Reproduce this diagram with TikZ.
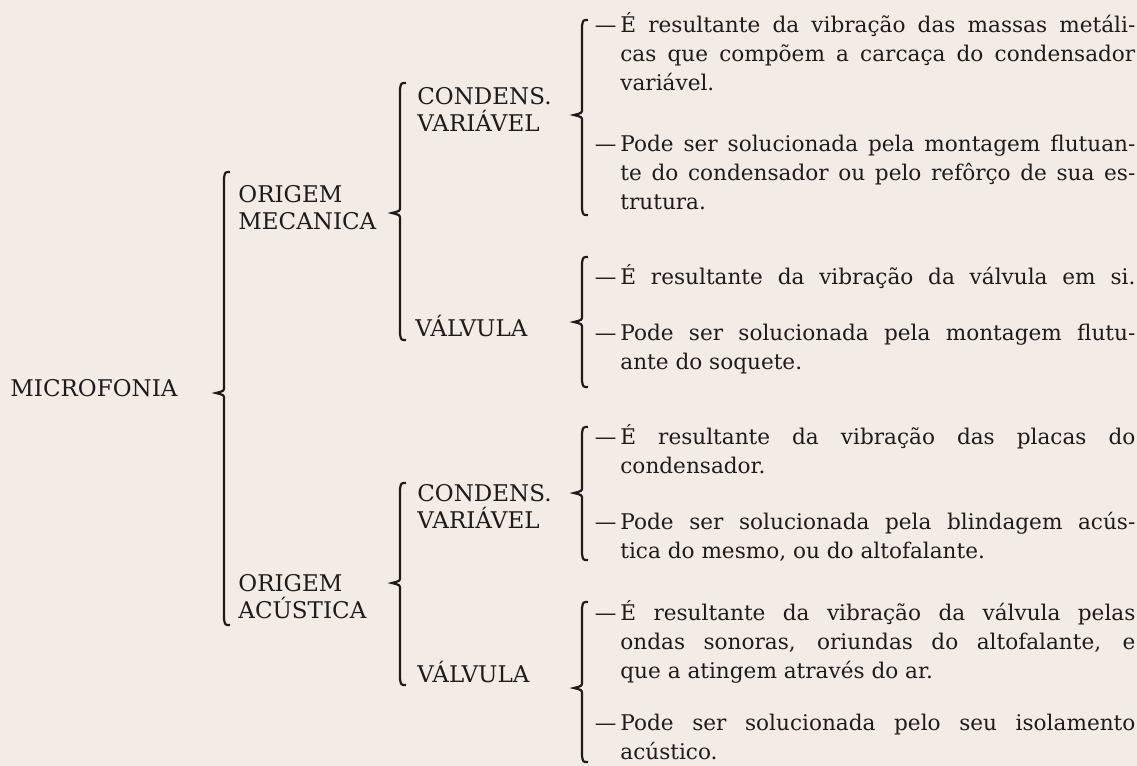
\documentclass[tikz,border=0pt]{standalone}
\usepackage{fontspec}
\setmainfont{DejaVu Serif}
\definecolor{papel}{RGB}{243,235,229}
\definecolor{tinta}{RGB}{30,27,25}
\hbadness=10000
\newcommand{\traco}{\leavevmode\llap{—\hspace{2pt}}}
\newcommand{\chave}[4]{% x, topo, bico, base
  \draw[chaveline] (#1+6,#2) .. controls (#1+1,#2) .. (#1,#2+6) -- (#1,#3-6)
    .. controls (#1,#3-2) .. (#1-8,#3) .. controls (#1,#3+2) .. (#1,#3+6)
    -- (#1,#4-6) .. controls (#1+1,#4) .. (#1+6,#4);}

\begin{document}
\begin{tikzpicture}[
            x=0.5pt, y=-0.5pt,
            font=\fontsize{10.8}{14.5}\selectfont,
            rotulo/.style={anchor=base west, inner sep=0pt, text width=3cm, align=left,
                           text=tinta, font=\fontsize{11.5}{13.5}\selectfont},
            texto/.style={anchor=base west, inner sep=0pt, text width=257.5pt,
                          align=justify, text=tinta},
            chaveline/.style={draw=tinta, line width=1.1pt}
        ]
            \fill[papel] (0,0) rectangle (1137,766);

            \node[rotulo] (microfonia) at (10,396) {MICROFONIA};
            \node[rotulo] (mecanica) at (238,202) {ORIGEM\\MECANICA};
            \node[rotulo] (acustica) at (238,591) {ORIGEM\\ACÚSTICA};
            \node[rotulo] (mecCond) at (417,104) {CONDENS.\\VARIÁVEL};
            \node[rotulo] (mecValv) at (415,336) {VÁLVULA};
            \node[rotulo] (acuCond) at (417,501) {CONDENS.\\VARIÁVEL};
            \node[rotulo] (acuValv) at (417,682) {VÁLVULA};

            \node[texto] (mecCondA) at (620,32)
                {\traco É resultante da vibração das massas metáli-\linebreak
                 cas que compõem a carcaça do condensador\linebreak variável.};
            \node[texto] (mecCondB) at (620,151)
                {\traco Pode ser solucionada pela montagem flutuan-\linebreak
                 te do condensador ou pelo refôrço de sua es-\linebreak trutura.};
            \node[texto] (mecValvA) at (620,284)
                {\makebox[\linewidth][s]{\traco É resultante da vibração da válvula em si.}};
            \node[texto] (mecValvB) at (620,340)
                {\traco Pode ser solucionada pela montagem flutu-\linebreak
                 ante do soquete.};
            \node[texto] (acuCondA) at (620,444)
                {\traco É resultante da vibração das placas do\linebreak condensador.};
            \node[texto] (acuCondB) at (620,529)
                {\traco Pode ser solucionada pela blindagem acús-\linebreak
                 tica do mesmo, ou do altofalante.};
            \node[texto] (acuValvA) at (620,620)
                {\traco É resultante da vibração da válvula pelas\linebreak
                 ondas sonoras, oriundas do altofalante, e\linebreak
                 que a atingem através do ar.};
            \node[texto] (acuValvB) at (620,730)
                {\traco Pode ser solucionada pelo seu isolamento\linebreak acústico.};

            \chave{224}{172}{393}{625}
            \chave{400}{83}{213}{340}
            \chave{400}{483}{583}{685}
            \chave{582}{20}{115}{215}
            \chave{582}{257}{322}{387}
            \chave{582}{427}{493}{560}
            \chave{582}{602}{688}{762}
        \end{tikzpicture}
\end{document}
